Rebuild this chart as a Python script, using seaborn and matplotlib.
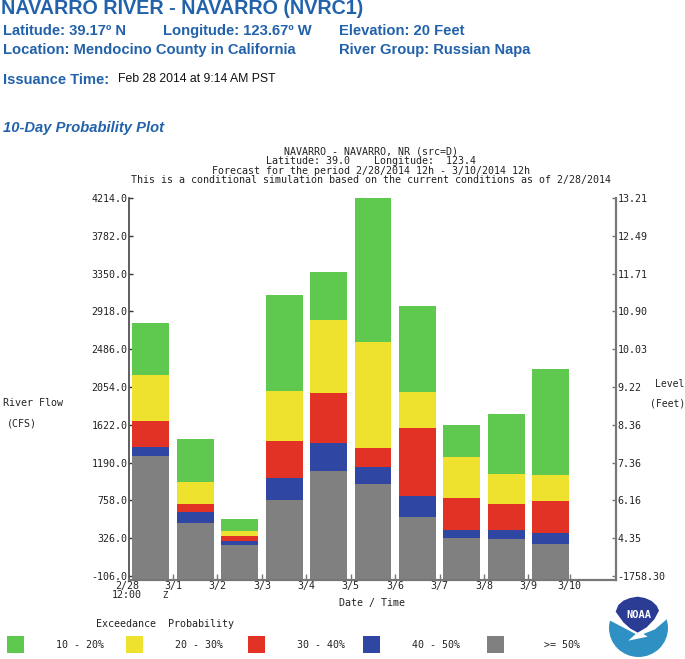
import matplotlib
matplotlib.use("Agg")
import matplotlib.pyplot as plt
from matplotlib.patches import Ellipse, Polygon, Rectangle
import seaborn as sns
import pandas as pd

W, H = 685, 659
dates = ["2/28", "3/1", "3/2", "3/3", "3/4", "3/5", "3/6", "3/7", "3/8", "3/9"]
tick_labels = ["3/1", "3/2", "3/3", "3/4", "3/5", "3/6", "3/7", "3/8", "3/9", "3/10"]
tick_pos = [0.5, 1.5, 2.5, 3.5, 4.5, 5.5, 6.5, 7.5, 8.5, 9.43]
left_labels = ["4214.0", "3782.0", "3350.0", "2918.0", "2486.0", "2054.0", "1622.0", "1190.0", "758.0", "326.0", "-106.0"]
left_values = [4214, 3782, 3350, 2918, 2486, 2054, 1622, 1190, 758, 326, -106]
right_labels = ["13.21", "12.49", "11.71", "10.90", "10.03", "9.22", "8.36", "7.36", "6.16", "4.35", "-1758.30"]
p50 = [1265, 499, 248, 762, 1094, 945, 568, 328, 316, 259]
p40 = [1368, 625, 293, 1014, 1414, 1139, 808, 419, 419, 385]
p30 = [1665, 716, 351, 1437, 1985, 1356, 1585, 785, 716, 751]
p20 = [2191, 968, 408, 2008, 2820, 2568, 1997, 1254, 1059, 1048]
p10 = [2785, 1459, 545, 3105, 3368, 4214, 2980, 1619, 1745, 2260]
legend_labels = ["10 - 20%", "20 - 30%", "30 - 40%", "40 - 50%", ">= 50%"]
colors = ["#5ec94e", "#eee22e", "#e23226", "#2f47a3", "#808080"]
series = [p10, p20, p30, p40, p50]

BLUE = "#2262ab"
MONO = "DejaVu Sans Mono"
AXC = "#777777"
DARK = "#222222"
BASE = -152

sns.set_theme(style="white")
fig = plt.figure(figsize=(W / 100, H / 100), dpi=100)
fig.patch.set_facecolor("white")


def fx(x):
    return x / W


def fy(y):
    return 1 - y / H


ax = fig.add_axes([fx(129), fy(580), fx(616 - 129), (580 - 198) / H])
df = pd.DataFrame({"date": dates})
for vals, col in zip(series, colors):
    d = df.assign(h=[v - BASE for v in vals])
    sns.barplot(data=d, x="date", y="h", color=col, saturation=1, width=0.83,
                bottom=BASE, ax=ax, linewidth=0, errorbar=None)

ax.set_xlim(-0.49, 10.47)
ax.set_ylim(BASE, 4214)
ax.set_xlabel("")
ax.set_ylabel("")
ax.set_xticks(tick_pos)
ax.set_xticklabels(tick_labels, fontfamily=MONO, fontsize=7.2)
ax.set_yticks(left_values)
ax.set_yticklabels(left_labels, fontfamily=MONO, fontsize=7.2)
ax.tick_params(axis="x", direction="in", length=4, width=1, color=AXC, pad=1, bottom=True, labelcolor=DARK)
ax.tick_params(axis="y", direction="in", length=3, width=1, color="#333333", pad=1, left=True, labelcolor=DARK)
sns.despine(ax=ax, top=True, right=False)
for s in ["bottom", "right"]:
    ax.spines[s].set_color(AXC)
    ax.spines[s].set_linewidth(1.6)
ax.spines["left"].set_color("#444444")
ax.spines["left"].set_linewidth(1.2)

ax2 = ax.twinx()
ax2.set_ylim(BASE, 4214)
ax2.set_yticks(left_values)
ax2.set_yticklabels(right_labels, fontfamily=MONO, fontsize=7.2)
ax2.tick_params(axis="y", direction="in", length=3, width=1, color=AXC, pad=1, right=True, labelcolor=DARK)
for s in ax2.spines.values():
    s.set_visible(False)


def T(x, y, s, **kw):
    kw.setdefault("va", "center")
    kw.setdefault("ha", "left")
    return fig.text(fx(x), fy(y), s, **kw)


def header(x, y, s, size=10.6):
    T(x, y, s, color=BLUE, fontsize=size, fontweight="bold", fontfamily="Liberation Sans")


header(1, 8, "NAVARRO RIVER - NAVARRO (NVRC1)", 14.2)
header(3, 31, "Latitude: 39.17º N")
header(163, 31, "Longitude: 123.67º W")
header(339, 31, "Elevation: 20 Feet")
header(3, 50, "Location: Mendocino County in California")
header(339, 50, "River Group: Russian Napa")
header(3, 80, "Issuance Time:")
T(118, 78.5, "Feb 28 2014 at 9:14 AM PST", color="#111111", fontsize=8.8, fontfamily="Liberation Sans")
T(3, 128, "10-Day Probability Plot", color=BLUE, fontsize=10.6, fontweight="bold", fontstyle="italic", fontfamily="Liberation Sans")

for y, s in zip([151, 161, 171, 180], [
    "NAVARRO - NAVARRO, NR (src=D)",
    "Latitude: 39.0    Longitude:  123.4",
    "Forecast for the period 2/28/2014 12h - 3/10/2014 12h",
    "This is a conditional simulation based on the current conditions as of 2/28/2014",
]):
    T(371, y, s, ha="center", fontfamily=MONO, fontsize=7.2, color=DARK)

T(127, 586.5, "2/28", ha="center", fontfamily=MONO, fontsize=7.2, color=DARK)
T(127, 595.5, "12:00", ha="center", fontfamily=MONO, fontsize=7.2, color=DARK)
T(165, 595, "Z", ha="center", fontfamily=MONO, fontsize=6.5, color=DARK)
T(372, 603, "Date / Time", ha="center", fontfamily=MONO, fontsize=7.2, color=DARK)
T(3, 403, "River Flow", fontfamily=MONO, fontsize=7.2, color=DARK)
T(7, 423, "(CFS)", fontfamily=MONO, fontsize=7.2, color=DARK)
T(655, 384, "Level", fontfamily=MONO, fontsize=7, color=DARK)
T(650, 403, "(Feet)", fontfamily=MONO, fontsize=7, color=DARK)
T(96, 624, "Exceedance  Probability", fontfamily=MONO, fontsize=7.2, color=DARK)

sq_x = [7, 126, 248, 363, 487]
txt_x = [56, 175, 297, 412, 544]
for sx, tx, c, lab in zip(sq_x, txt_x, colors, legend_labels):
    fig.add_artist(Rectangle((fx(sx), fy(653)), 17 / W, 17 / H, color=c, lw=0, transform=fig.transFigure))
    T(tx, 645, lab, fontfamily=MONO, fontsize=7.2, color=DARK)

# NOAA logo (coordinates of the emblem, not data)
tf = fig.transFigure


def logo_pts(pts):
    return [(fx(595 + a / 3), fy(590 + b / 3)) for a, b in pts]


fig.add_artist(Ellipse((fx(638.5), fy(628)), 59 / W, 58 / H, color="#2f90c4", lw=0, transform=tf))
fig.add_artist(Polygon(logo_pts([(30, 25), (230, 25), (222, 82), (180, 118), (145, 132), (158, 140),
                                 (100, 152), (122, 132), (80, 110), (38, 88)]),
                       closed=True, color="white", lw=0, transform=tf))
fig.add_artist(Polygon(logo_pts([(62, 65), (70, 45), (85, 32), (105, 24), (128, 20), (150, 24), (170, 33),
                                 (185, 47), (192, 62), (178, 88), (155, 112), (128, 128),
                                 (105, 115), (85, 97)]),
                       closed=True, color="#2a3c94", lw=0, transform=tf))
T(639, 615, "NOAA", ha="center", fontfamily=MONO, fontsize=7.5, fontweight="bold", color="white")

fig.savefig("out.png", dpi=100)
